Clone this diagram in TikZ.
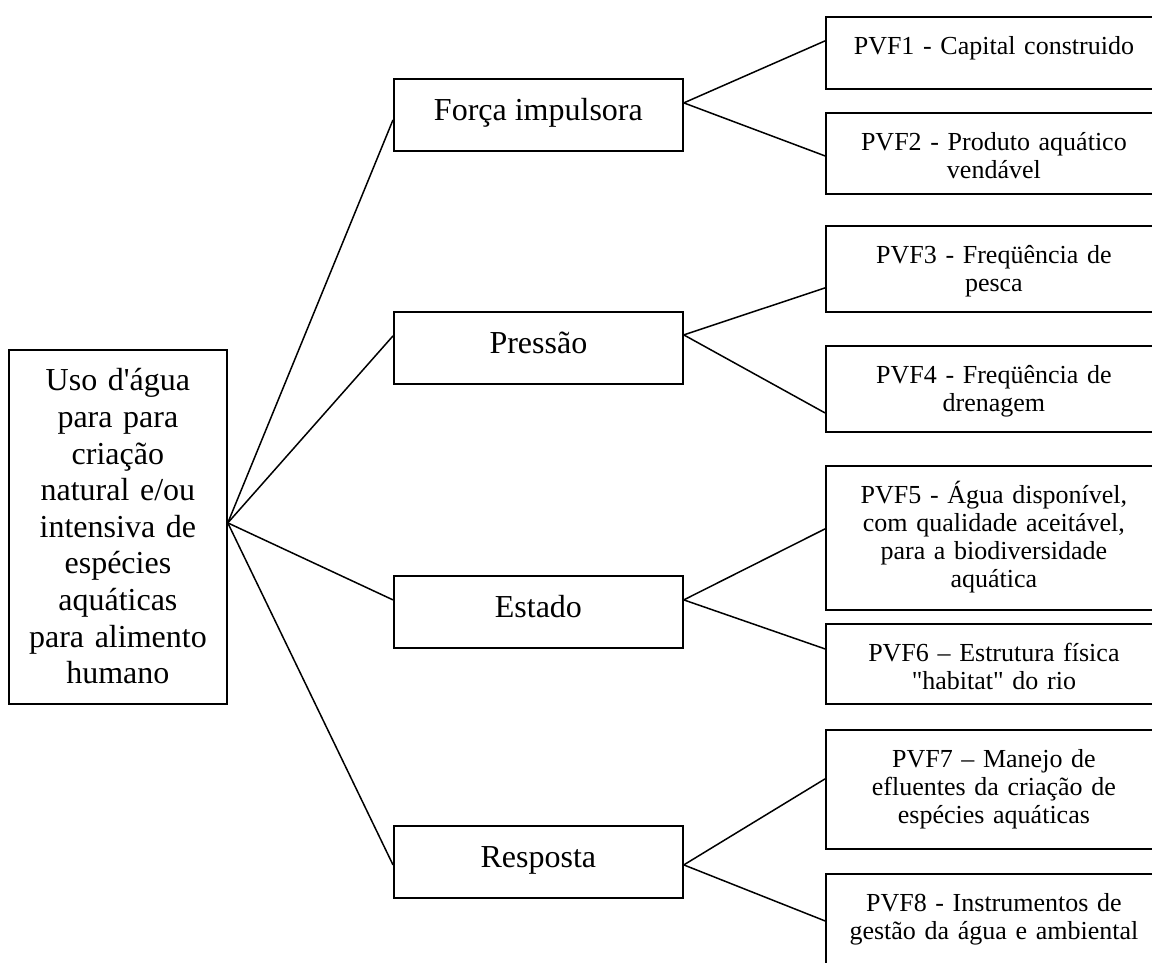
\documentclass[tikz,border=0pt]{standalone}
\usepackage{fontspec}
\setmainfont{Liberation Serif}

\begin{document}
\begin{tikzpicture}[x=0.5pt, y=-0.5pt,
    box/.style={draw, line width=0.9pt, inner sep=0pt, align=center, anchor=north west},
    theme/.style={box, minimum width=144.5pt, text height=21pt, text depth=15pt,
                  font=\fontsize{16}{18}\selectfont},
    pvf/.style={box, text width=168pt, text height=19pt,
                font=\fontsize{13}{14}\selectfont},
    link/.style={line width=0.75pt}]
  \useasboundingbox (0,0) rectangle (1152,963);
  % uso da agua
  \node[box, text width=109pt, text height=20.5pt, text depth=156.5pt,
        font=\fontsize{16}{18.3}\selectfont] (uso) at (8,349)
    {Uso d\textquotesingle água\\ para para\\ criação\\ natural e/ou\\ intensiva de\\
     espécies\\ aquáticas\\ para alimento\\ humano};
  % temas
  \node[theme] (fi) at (393,78)  {Força impulsora};
  \node[theme] (pr) at (393,311) {Pressão};
  \node[theme] (es) at (393,575) {Estado};
  \node[theme] (re) at (393,825) {Resposta};
  % indicadores
  \node[pvf, text depth=17pt]   (p1) at (825,16)  {PVF1 - Capital construido};
  \node[pvf, text depth=21.5pt] (p2) at (825,112) {PVF2 - Produto aquático\\ vendável};
  \node[pvf, text depth=24pt]   (p3) at (825,225) {PVF3 - Freqüência de\\ pesca};
  \node[pvf, text depth=24pt]   (p4) at (825,345) {PVF4 - Freqüência de\\ drenagem};
  \node[pvf, text depth=53pt]   (p5) at (825,465)
    {PVF5 - Água disponível,\\ com qualidade aceitável,\\ para a biodiversidade\\ aquática};
  \node[pvf, text depth=21pt]   (p6) at (825,623)
    {PVF6 -- Estrutura física\\ \textquotedbl habitat\textquotedbl{} do rio};
  \node[pvf, text depth=40.5pt] (p7) at (825,729)
    {PVF7 -- Manejo de\\ efluentes da criação de\\ espécies aquáticas};
  \node[pvf, text depth=40pt]   (p8) at (825,873)
    {PVF8 - Instrumentos de\\ gestão da água e ambiental};
  % ligacoes
  \draw[link] ([yshift=2pt]uso.east) -- ([yshift=-2.5pt]fi.west);
  \draw[link] ([yshift=2pt]uso.east) -- ([yshift=6pt]pr.west);
  \draw[link] ([yshift=2pt]uso.east) -- ([yshift=6pt]es.west);
  \draw[link] ([yshift=2pt]uso.east) -- ([yshift=-1.5pt]re.west);
  \draw[link] ([yshift=6pt]fi.east) -- ([yshift=6pt]p1.west);
  \draw[link] ([yshift=6pt]fi.east) -- ([yshift=-1.25pt]p2.west);
  \draw[link] ([yshift=6.5pt]pr.east) -- ([yshift=-9.5pt]p3.west);
  \draw[link] ([yshift=6.5pt]pr.east) -- ([yshift=-12pt]p4.west);
  \draw[link] ([yshift=6pt]es.east) -- ([yshift=4.5pt]p5.west);
  \draw[link] ([yshift=6pt]es.east) -- ([yshift=7.5pt]p6.west);
  \draw[link] ([yshift=-1.5pt]re.east) -- ([yshift=5.25pt]p7.west);
  \draw[link] ([yshift=-1.5pt]re.east) -- ([yshift=6pt]p8.west);
\end{tikzpicture}
\end{document}
